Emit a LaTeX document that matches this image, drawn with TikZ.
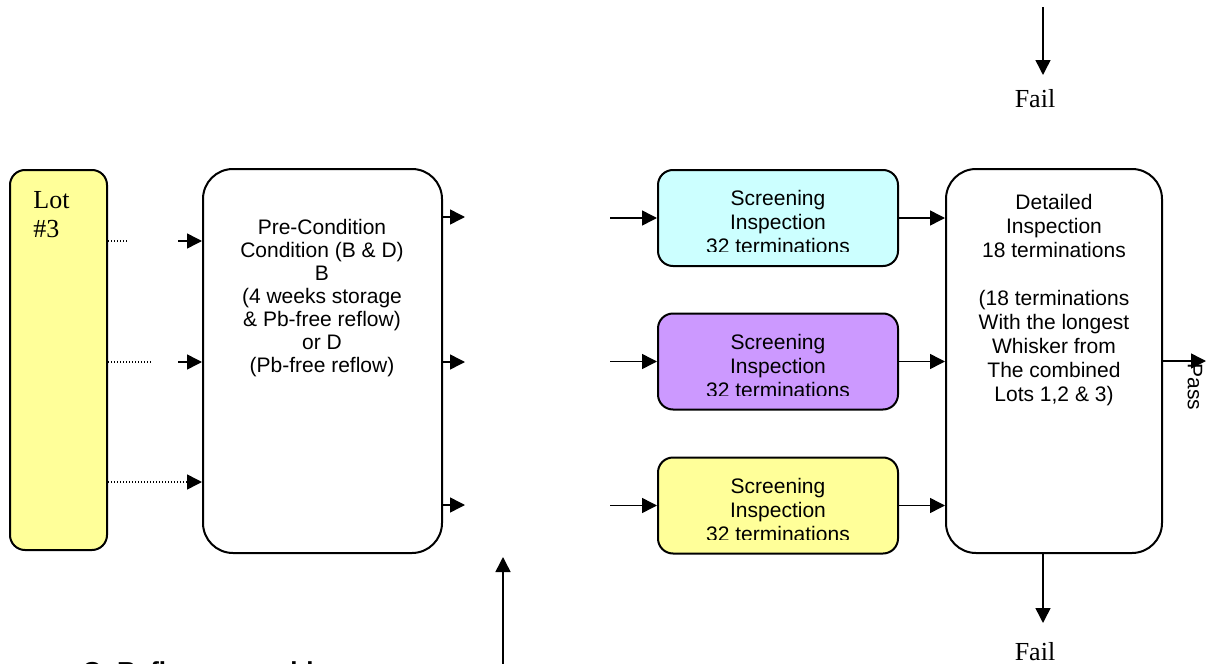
\documentclass[tikz,border=0pt]{standalone}
\usepackage{fontspec}
\setmainfont{Liberation Serif}
\setsansfont{Liberation Sans}
\usetikzlibrary{arrows.meta}
\definecolor{lotyellow}{HTML}{FFFF99}
\definecolor{scrcyan}{HTML}{CCFFFF}
\definecolor{scrviolet}{HTML}{CC99FF}
\definecolor{scryellow}{HTML}{FFFF99}
\begin{document}
\begin{tikzpicture}[x=0.5pt,y=-0.5pt,
  box/.style={draw=black,line width=1pt,inner sep=0pt},
  bigbox/.style={box,rounded corners=15pt,minimum height=192pt},
  scrbox/.style={box,rounded corners=7.5pt,minimum width=120pt,minimum height=48pt},
  sanstext/.style={font=\sffamily\fontsize{10.5}{12}\selectfont,align=center,inner sep=0pt,anchor=north},
  sertext/.style={font=\rmfamily\fontsize{13}{15}\selectfont,inner sep=0pt},
  arr/.style={line width=0.75pt,-{Triangle[length=7.5pt,width=7.5pt]}},
  dots/.style={line width=0.7pt,dash pattern=on 0.7pt off 0.8pt}
]
\useasboundingbox (0,0) rectangle (1206,664);

% boxes
\node[box,rounded corners=7.5pt,fill=lotyellow,minimum width=48.5pt,minimum height=190pt] (lot) at (58.5,360) {};
\node[bigbox,minimum width=119.5pt] (pre) at (322.5,361) {};
\node[scrbox,fill=scrcyan] (s1) at (778,218) {};
\node[scrbox,fill=scrviolet] (s2) at (778,361.5) {};
\node[scrbox,fill=scryellow] (s3) at (778,505.5) {};
\node[bigbox,minimum width=108pt] (det) at (1054,361) {};

% texts
\node[sertext,align=left,anchor=north west] (lottext) at (33,191) {Lot\\[-0.5pt]\#3};
\node[sanstext,font=\sffamily\fontsize{10.5}{11.5}\selectfont] (pretext) at (322,219)
  {Pre-Condition\\Condition (B \& D)\\B\\(4 weeks storage\\\& Pb-free reflow)\\or D\\(Pb-free reflow)};
\begin{scope}
  \clip (660,172) rectangle (896,251);
  \node[sanstext] (t1) at (778,190) {Screening\\Inspection\\32 terminations};
\end{scope}
\begin{scope}
  \clip (660,316) rectangle (896,395);
  \node[sanstext] (t2) at (778,334) {Screening\\Inspection\\32 terminations};
\end{scope}
\begin{scope}
  \clip (660,460) rectangle (896,539);
  \node[sanstext] (t3) at (778,478) {Screening\\Inspection\\32 terminations};
\end{scope}
\node[sanstext] (dettext) at (1054,194)
  {Detailed\\Inspection\\18 terminations\\[12pt](18 terminations\\With the longest\\Whisker from\\The combined\\Lots 1,2 \& 3)};

% coordinates
\coordinate (ya) at (0,241);
\coordinate (yb) at (0,362);
\coordinate (yc) at (0,482);
\coordinate (da) at (128,241);
\coordinate (db) at (152,362);
\coordinate (dc) at (186,482);
\coordinate (ia) at (178,241);
\coordinate (ib) at (178,362);
\coordinate (oa) at (465,217);
\coordinate (ob) at (465,362);
\coordinate (oc) at (465,505);
\coordinate (qa) at (610,218);
\coordinate (qb) at (610,361.5);
\coordinate (qc) at (610,505.5);
\coordinate (passend) at (1206,361);
\coordinate (failx) at (1043,0);
\coordinate (failend) at (1043,623);
\coordinate (topstart) at (1043,7);
\coordinate (topend) at (1043,75);
\coordinate (upstart) at (503,670);
\coordinate (upend) at (503,557);

% lot to pre-condition
\draw[dots] (lot.east |- ya) -- (da);
\draw[dots] (lot.east |- yb) -- (db);
\draw[dots] (lot.east |- yc) -- (dc);
\draw[arr] (ia) -- (pre.west |- ia);
\draw[arr] (ib) -- (pre.west |- ib);
\draw[arr] (dc) -- (pre.west |- dc);

% pre-condition outputs
\draw[arr] (pre.east |- oa) -- (oa);
\draw[arr] (pre.east |- ob) -- (ob);
\draw[arr] (pre.east |- oc) -- (oc);

% into screening
\draw[arr] (qa) -- (s1.west);
\draw[arr] (qb) -- (s2.west);
\draw[arr] (qc) -- (s3.west);

% screening to detailed
\draw[arr] (s1.east) -- (det.west |- s1.east);
\draw[arr] (s2.east) -- (det.west |- s2.east);
\draw[arr] (s3.east) -- (det.west |- s3.east);

% pass / fail
\draw[arr] (det.east) -- (passend);
\node[font=\sffamily\fontsize{10.5}{12}\selectfont,inner sep=0pt,rotate=-90] (pass) at (1195,387) {Pass};
\draw[arr] (det.south -| failx) -- (failend);
\node[sertext] (fail2) at (1035,652) {Fail};
\draw[arr] (topstart) -- (topend);
\node[sertext] (fail1) at (1035,99) {Fail};

% up arrow
\draw[arr] (upstart) -- (upend);

% cut-off caption (shown cut by the lower edge, as in the reference)
\node[font=\sffamily\bfseries\fontsize{13}{15}\selectfont,inner sep=0pt,anchor=base west] (cap) at (82,680) {C: Reflow assemble};
\end{tikzpicture}
\end{document}
